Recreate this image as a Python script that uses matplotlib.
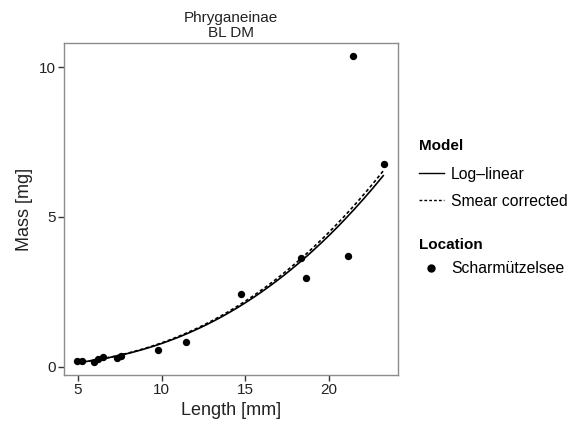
import numpy as np
import matplotlib
matplotlib.use("Agg")
import matplotlib.pyplot as plt
from matplotlib.lines import Line2D

plt.rcParams['font.family'] = ['Liberation Sans', 'DejaVu Sans']

# measured points (Scharmuetzelsee)
length_mm = [4.95, 5.25, 5.97, 6.22, 6.47, 7.31, 7.57, 9.78, 11.45,
             14.77, 18.37, 18.67, 21.14, 21.45, 23.3]
mass_mg = [0.18, 0.18, 0.15, 0.25, 0.33, 0.30, 0.36, 0.56, 0.82,
           2.44, 3.62, 2.95, 3.71, 10.37, 6.77]

# power-law fit M = a * L^b
fit_a = 0.002442
fit_b = 2.5
smear_factor = 1.025

fig = plt.figure(figsize=(5.79, 4.28), dpi=100)
ax = fig.add_axes([0.1105, 0.1238, 0.5765, 0.7757])

L = np.linspace(min(length_mm), max(length_mm), 200)
M = fit_a * L ** fit_b
ax.plot(L, M, color='black', lw=1.2, solid_capstyle='butt')
ax.plot(L, M * smear_factor, color='black', lw=1.2, ls=(0, (2.0, 1.5)))
ax.scatter(length_mm, mass_mg, s=28, color='black', zorder=3, linewidths=0)

ax.set_xlim(4.16, 24.14)
ax.set_ylim(-0.28, 10.81)
ax.set_xticks([5, 10, 15, 20])
ax.set_yticks([0, 5, 10])
for s in ax.spines.values():
    s.set_color('#8c8c8c')
    s.set_linewidth(1.0)
ax.tick_params(length=4, width=1, color='#333333', labelsize=11, pad=2,
               labelcolor='#222222')

ax.set_xlabel('Length [mm]', fontsize=13, labelpad=3, color='#222222')
ax.set_ylabel('Mass [mg]', fontsize=13, labelpad=4, color='#222222')
ax.set_title('Phryganeinae\nBL DM', fontsize=11, linespacing=1.1, pad=4,
             color='#222222')

model_handles = [Line2D([], [], color='black', lw=1.0),
                 Line2D([], [], color='black', lw=1.0, ls=(0, (2.0, 1.5)))]
leg1 = fig.legend(model_handles, ['Log\u2013linear', 'Smear corrected'],
                  title='Model', loc='upper left', bbox_to_anchor=(0.723, 0.675),
                  frameon=False, fontsize=11.3, handlelength=1.6,
                  handletextpad=0.45, labelspacing=0.75, alignment='left',
                  borderaxespad=0, borderpad=0)
leg1.get_title().set_fontweight('bold')
leg1.get_title().set_fontsize(11)
leg1._legend_box.sep = 10

loc_handles = [Line2D([], [], color='black', marker='o', ls='none', markersize=5)]
leg2 = fig.legend(loc_handles, ['Scharm\u00fctzelsee'],
                  title='Location', loc='upper left', bbox_to_anchor=(0.723, 0.445),
                  frameon=False, fontsize=11.3, handlelength=1.6,
                  handletextpad=0.45, alignment='left',
                  borderaxespad=0, borderpad=0)
leg2.get_title().set_fontweight('bold')
leg2.get_title().set_fontsize(11)
leg2._legend_box.sep = 7

fig.savefig('out.png', dpi=100)
